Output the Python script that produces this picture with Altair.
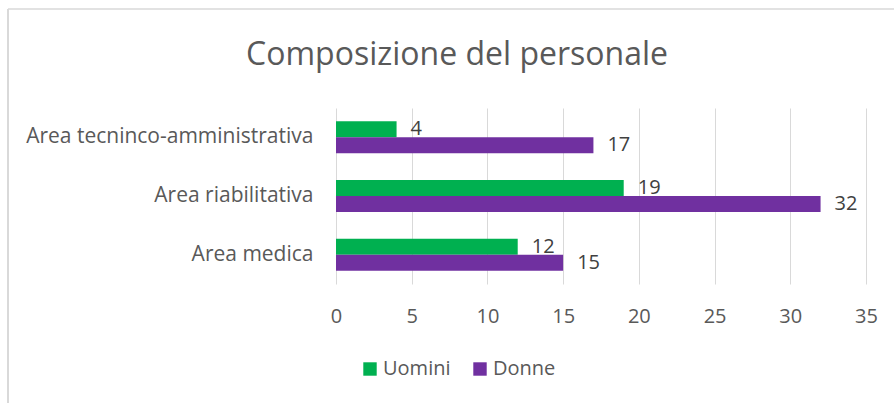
import altair as alt
import pandas as pd

# ---- data ----
categories = ["Area tecninco-amministrativa", "Area riabilitativa", "Area medica"]
series = ["Uomini", "Donne"]
uomini = [4, 19, 12]
donne = [17, 32, 15]
colors = ["#00B050", "#7030A0"]
x_ticks = [0, 5, 10, 15, 20, 25, 30, 35]
title_text = "Composizione del personale"

rows = []
for c, u, d in zip(categories, uomini, donne):
    rows.append({"cat": c, "serie": series[0], "val": u})
    rows.append({"cat": c, "serie": series[1], "val": d})
df = pd.DataFrame(rows)

FONT = "Open Sans"
TXT = "#595959"
GRID = "#d9d9d9"

y_scale = alt.Scale(paddingInner=0.4545, paddingOuter=0.2273)
yoff_scale = alt.Scale(paddingInner=0, paddingOuter=0)

y_enc = alt.Y(
    "cat:N", sort=categories, title=None, scale=y_scale,
    axis=alt.Axis(ticks=False, tickSize=0, domain=False, grid=False,
                  labelPadding=23, labelFontSize=21, labelColor=TXT,
                  labelFont=FONT, labelLimit=400),
)
x_enc = alt.X(
    "val:Q", title=None, scale=alt.Scale(domain=[0, 35], nice=False),
    axis=alt.Axis(values=x_ticks, ticks=False, tickSize=0, domain=False,
                  grid=True, gridColor=GRID, gridWidth=1, labelFlush=False,
                  labelPadding=32, labelBaseline="middle",
                  labelFontSize=20, labelColor=TXT, labelFont=FONT),
)
yoff = alt.YOffset("serie:N", sort=series, scale=yoff_scale)

bars = alt.Chart(df).mark_bar().encode(
    x=x_enc,
    y=y_enc,
    yOffset=yoff,
    color=alt.Color(
        "serie:N", sort=series,
        scale=alt.Scale(domain=series, range=colors),
        legend=alt.Legend(
            title=None, orient="none", legendX=24, legendY=251,
            direction="horizontal", symbolType="square", symbolSize=180,
            symbolStrokeWidth=0, labelFontSize=20, labelFont=FONT,
            labelColor=TXT, labelOffset=3, columnPadding=19, padding=0,
        ),
    ),
)

labels = alt.Chart(df).mark_text(
    align="left", baseline="middle", dx=14, fontSize=20, font=FONT, color="#404040"
).encode(
    x=alt.X("val:Q"),
    y=alt.Y("cat:N", sort=categories),
    yOffset=alt.YOffset("serie:N", sort=series),
    text=alt.Text("val:Q"),
)

frame_df = pd.DataFrame({"k": [0]})
top_line = alt.Chart(frame_df).mark_rule(color=GRID, strokeWidth=1.5).encode(
    x=alt.value(-328), x2=alt.value(600), y=alt.value(-99)
)
left_line = alt.Chart(frame_df).mark_rule(color=GRID, strokeWidth=2).encode(
    x=alt.value(-328), y=alt.value(-99), y2=alt.value(400)
)

chart = alt.layer(top_line, left_line, bars, labels).properties(
    width=530,
    height=176,
    padding={"left": 336, "top": 108, "right": 28, "bottom": 119},
    autosize=alt.AutoSizeParams(type="none"),
    title=alt.TitleParams(
        text=title_text, font=FONT, fontSize=32, color=TXT, fontWeight="normal",
        anchor="middle", dx=-144, offset=-89, baseline="alphabetic",
    ),
    background="white",
).configure_view(stroke=None)

chart.save("out.html", embed_options={"renderer": "svg", "actions": False})
